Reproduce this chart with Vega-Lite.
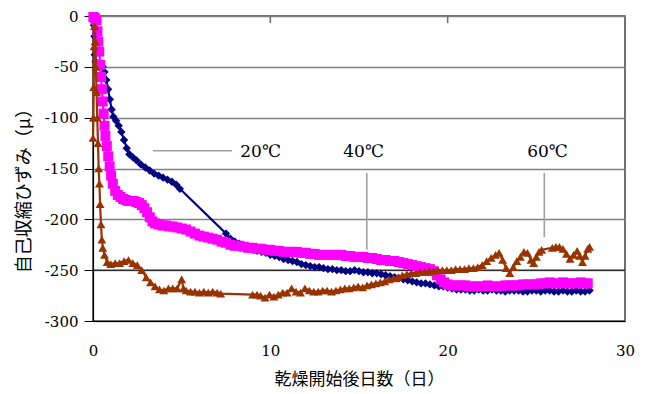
{
"$schema": "https://vega.github.io/schema/vega-lite/v6.json",
"width": 532, "height": 305,
"autosize": "none",
"padding": {"left": 93, "top": 16, "right": 23, "bottom": 73},
"background": "white",
"config": {"view": {"stroke": "#404040", "strokeWidth": 1.5}},
"datasets": {
"blue": [
{"d":0.02,"v":-5},{"d":0.05,"v":-9},{"d":0.08,"v":-20},{"d":0.1,"v":-38},{"d":0.15,"v":-45},{"d":0.25,"v":-47},{"d":0.4,"v":-48},{"d":0.55,"v":-50},{"d":0.65,"v":-55},{"d":0.75,"v":-63},{"d":0.85,"v":-72},{"d":0.95,"v":-82},{"d":1.05,"v":-92},{"d":1.15,"v":-99},{"d":1.3,"v":-103},{"d":1.45,"v":-108},{"d":1.6,"v":-114},{"d":1.75,"v":-122},{"d":1.9,"v":-130},{"d":2.05,"v":-136},{"d":2.25,"v":-139},{"d":2.45,"v":-142},{"d":2.7,"v":-146},{"d":2.95,"v":-149},{"d":3.2,"v":-152},{"d":3.45,"v":-155},{"d":3.7,"v":-157},{"d":3.95,"v":-159},{"d":4.2,"v":-161},{"d":4.45,"v":-163},{"d":4.7,"v":-166},{"d":4.9,"v":-170},
{"d":7.5,"v":-214},{"d":7.75,"v":-219},{"d":8.0,"v":-222},{"d":8.25,"v":-224},{"d":8.5,"v":-226},{"d":8.75,"v":-227},{"d":9.0,"v":-229},{"d":9.25,"v":-231},{"d":9.5,"v":-232},{"d":9.75,"v":-233},{"d":10,"v":-235},{"d":10.25,"v":-236},{"d":10.5,"v":-237},{"d":10.75,"v":-239},{"d":11,"v":-240},{"d":11.25,"v":-241},{"d":11.5,"v":-242},{"d":11.75,"v":-244},{"d":12,"v":-245},{"d":12.25,"v":-246},{"d":12.5,"v":-247},{"d":12.75,"v":-247},{"d":13,"v":-248},{"d":13.25,"v":-249},{"d":13.5,"v":-249},{"d":13.75,"v":-250},{"d":14,"v":-250},{"d":14.25,"v":-251},{"d":14.5,"v":-251},{"d":14.75,"v":-250},{"d":15,"v":-251},{"d":15.25,"v":-252},{"d":15.5,"v":-252},{"d":15.75,"v":-253},{"d":16,"v":-253},{"d":16.25,"v":-254},{"d":16.5,"v":-255},{"d":16.75,"v":-256},{"d":17,"v":-257},{"d":17.25,"v":-258},{"d":17.5,"v":-259},{"d":17.75,"v":-260},{"d":18,"v":-261},{"d":18.25,"v":-262},{"d":18.5,"v":-263},{"d":18.75,"v":-263},{"d":19,"v":-264},{"d":19.25,"v":-265},{"d":19.5,"v":-266},{"d":19.75,"v":-266},{"d":20,"v":-267},{"d":20.25,"v":-268},{"d":20.5,"v":-269},{"d":20.75,"v":-269},{"d":21,"v":-269},{"d":21.25,"v":-270},{"d":21.5,"v":-270},{"d":21.75,"v":-269},{"d":22,"v":-270},{"d":22.25,"v":-270},{"d":22.5,"v":-269},{"d":22.75,"v":-270},{"d":23,"v":-270},{"d":23.25,"v":-271},{"d":23.5,"v":-270},{"d":23.75,"v":-270},{"d":24,"v":-270},{"d":24.25,"v":-271},{"d":24.5,"v":-271},{"d":24.75,"v":-270},{"d":25,"v":-270},{"d":25.25,"v":-271},{"d":25.5,"v":-270},{"d":25.75,"v":-270},{"d":26,"v":-271},{"d":26.25,"v":-271},{"d":26.5,"v":-270},{"d":26.75,"v":-271},{"d":27,"v":-271},{"d":27.25,"v":-270},{"d":27.5,"v":-271},{"d":27.75,"v":-271},{"d":28,"v":-270}
],
"pink": [
{"d":0.02,"v":-1},{"d":0.1,"v":-2},{"d":0.2,"v":-4},{"d":0.25,"v":-15},{"d":0.3,"v":-25},{"d":0.35,"v":-35},{"d":0.4,"v":-48},{"d":0.45,"v":-60},{"d":0.5,"v":-72},{"d":0.55,"v":-84},{"d":0.6,"v":-96},{"d":0.65,"v":-108},{"d":0.7,"v":-118},{"d":0.78,"v":-128},{"d":0.86,"v":-138},{"d":0.94,"v":-148},{"d":1.02,"v":-157},{"d":1.12,"v":-165},{"d":1.25,"v":-172},{"d":1.4,"v":-176},{"d":1.55,"v":-178},{"d":1.7,"v":-180},{"d":1.85,"v":-181},{"d":2.0,"v":-182},{"d":2.15,"v":-182},{"d":2.3,"v":-182},{"d":2.45,"v":-183},{"d":2.6,"v":-184},{"d":2.75,"v":-186},{"d":2.9,"v":-189},{"d":3.05,"v":-193},{"d":3.2,"v":-198},{"d":3.35,"v":-202},{"d":3.5,"v":-204},{"d":3.7,"v":-205},{"d":3.9,"v":-206},{"d":4.1,"v":-206},{"d":4.3,"v":-207},{"d":4.5,"v":-207},{"d":4.75,"v":-208},
{"d":5.0,"v":-209},{"d":5.25,"v":-210},{"d":5.5,"v":-212},{"d":5.75,"v":-214},{"d":6.0,"v":-216},{"d":6.25,"v":-217},{"d":6.5,"v":-218},{"d":6.75,"v":-219},{"d":7.0,"v":-220},{"d":7.25,"v":-222},{"d":7.5,"v":-223},{"d":7.75,"v":-225},{"d":8.0,"v":-226},{"d":8.25,"v":-226},{"d":8.5,"v":-227},{"d":8.75,"v":-228},{"d":9.0,"v":-228},{"d":9.25,"v":-229},{"d":9.5,"v":-229},{"d":9.75,"v":-230},{"d":10,"v":-230},{"d":10.25,"v":-231},{"d":10.5,"v":-231},{"d":10.75,"v":-232},{"d":11,"v":-232},{"d":11.25,"v":-232},{"d":11.5,"v":-232},{"d":11.75,"v":-233},{"d":12,"v":-233},{"d":12.25,"v":-234},{"d":12.5,"v":-234},{"d":12.75,"v":-235},{"d":13,"v":-235},{"d":13.25,"v":-235},{"d":13.5,"v":-235},{"d":13.75,"v":-235},{"d":14,"v":-235},{"d":14.25,"v":-236},{"d":14.5,"v":-236},{"d":14.75,"v":-237},{"d":15,"v":-237},{"d":15.25,"v":-237},{"d":15.5,"v":-238},{"d":15.75,"v":-238},{"d":16,"v":-239},{"d":16.25,"v":-240},{"d":16.5,"v":-240},{"d":16.75,"v":-241},{"d":17,"v":-241},{"d":17.25,"v":-242},{"d":17.5,"v":-243},{"d":17.75,"v":-244},{"d":18,"v":-245},{"d":18.25,"v":-246},{"d":18.5,"v":-247},{"d":18.75,"v":-248},{"d":19,"v":-249},{"d":19.2,"v":-251},{"d":19.4,"v":-255},{"d":19.6,"v":-259},{"d":19.8,"v":-262},{"d":20,"v":-264},{"d":20.25,"v":-265},{"d":20.5,"v":-265},{"d":20.75,"v":-265},{"d":21,"v":-265},{"d":21.25,"v":-266},{"d":21.5,"v":-266},{"d":21.75,"v":-266},{"d":22,"v":-266},{"d":22.25,"v":-265},{"d":22.5,"v":-266},{"d":22.75,"v":-266},{"d":23,"v":-266},{"d":23.25,"v":-265},{"d":23.5,"v":-265},{"d":23.75,"v":-265},{"d":24,"v":-265},{"d":24.25,"v":-264},{"d":24.5,"v":-264},{"d":24.75,"v":-264},{"d":25,"v":-264},{"d":25.25,"v":-263},{"d":25.5,"v":-263},{"d":25.75,"v":-262},{"d":26,"v":-263},{"d":26.25,"v":-263},{"d":26.5,"v":-262},{"d":26.75,"v":-263},{"d":27,"v":-263},{"d":27.25,"v":-263},{"d":27.5,"v":-262},{"d":27.75,"v":-263},{"d":27.9,"v":-263}
],
"brown": [
{"d":0.0,"v":-120},{"d":0.02,"v":-100},{"d":0.04,"v":-70},{"d":0.06,"v":-30},{"d":0.08,"v":-10},{"d":0.12,"v":-25},{"d":0.16,"v":-50},{"d":0.2,"v":-75},{"d":0.24,"v":-100},{"d":0.28,"v":-125},{"d":0.32,"v":-150},{"d":0.36,"v":-165},{"d":0.4,"v":-185},{"d":0.45,"v":-205},{"d":0.5,"v":-220},{"d":0.55,"v":-228},{"d":0.65,"v":-235},
{"d":0.8,"v":-242},{"d":1.0,"v":-244},{"d":1.25,"v":-243},{"d":1.5,"v":-243},{"d":1.75,"v":-241},{"d":2.0,"v":-240},{"d":2.25,"v":-243},{"d":2.5,"v":-245},{"d":2.75,"v":-250},{"d":3.0,"v":-257},{"d":3.25,"v":-262},{"d":3.5,"v":-266},{"d":3.75,"v":-269},{"d":4.0,"v":-270},{"d":4.25,"v":-268},{"d":4.5,"v":-268},{"d":4.75,"v":-268},{"d":5.0,"v":-259},{"d":5.1,"v":-268},{"d":5.25,"v":-270},{"d":5.5,"v":-271},{"d":5.75,"v":-271},{"d":6.0,"v":-272},{"d":6.25,"v":-271},{"d":6.5,"v":-272},{"d":6.75,"v":-271},{"d":7.0,"v":-272},{"d":7.2,"v":-273},
{"d":9.0,"v":-274},{"d":9.25,"v":-274},{"d":9.45,"v":-275},{"d":9.7,"v":-277},{"d":9.95,"v":-274},{"d":10.2,"v":-276},{"d":10.45,"v":-274},{"d":10.7,"v":-272},{"d":10.95,"v":-272},{"d":11.2,"v":-268},{"d":11.45,"v":-271},{"d":11.7,"v":-272},{"d":11.95,"v":-268},{"d":12.2,"v":-270},{"d":12.45,"v":-271},{"d":12.7,"v":-271},{"d":12.95,"v":-270},{"d":13.2,"v":-270},{"d":13.45,"v":-271},{"d":13.7,"v":-270},{"d":13.95,"v":-269},{"d":14.2,"v":-268},{"d":14.45,"v":-268},{"d":14.7,"v":-267},{"d":14.95,"v":-266},{"d":15.2,"v":-267},{"d":15.45,"v":-265},{"d":15.7,"v":-264},{"d":15.95,"v":-263},{"d":16.2,"v":-262},{"d":16.45,"v":-261},{"d":16.7,"v":-259},{"d":16.95,"v":-258},{"d":17.2,"v":-257},{"d":17.45,"v":-255},{"d":17.7,"v":-254},{"d":17.95,"v":-253},{"d":18.2,"v":-253},{"d":18.45,"v":-252},{"d":18.7,"v":-252},{"d":18.95,"v":-251},{"d":19.2,"v":-251},{"d":19.45,"v":-250},{"d":19.7,"v":-250},{"d":19.95,"v":-250},{"d":20.2,"v":-250},{"d":20.45,"v":-249},{"d":20.7,"v":-249},{"d":20.95,"v":-249},{"d":21.2,"v":-248},{"d":21.45,"v":-248},{"d":21.7,"v":-247},{"d":21.95,"v":-245},{"d":22.2,"v":-241},{"d":22.45,"v":-238},{"d":22.7,"v":-235},{"d":22.9,"v":-233},{"d":23.1,"v":-240},{"d":23.3,"v":-248},{"d":23.5,"v":-253},{"d":23.7,"v":-247},{"d":23.9,"v":-241},{"d":24.1,"v":-237},{"d":24.3,"v":-232},{"d":24.5,"v":-233},{"d":24.7,"v":-240},{"d":24.85,"v":-243},{"d":25.0,"v":-237},{"d":25.15,"v":-232},{"d":25.3,"v":-230},{"d":25.9,"v":-228},{"d":26.1,"v":-227},{"d":26.3,"v":-227},{"d":26.5,"v":-229},{"d":26.7,"v":-234},{"d":26.9,"v":-239},{"d":27.1,"v":-235},{"d":27.3,"v":-231},{"d":27.45,"v":-236},{"d":27.6,"v":-242},{"d":27.75,"v":-236},{"d":27.9,"v":-229},{"d":28.0,"v":-227}
]
},
"layer": [
{
"data": {"values": [{"v": -250}]},
"mark": {"type": "rule", "color": "black", "strokeWidth": 1},
"encoding": {
"y": {"field": "v", "type": "quantitative", "scale": {"domain": [-300, 0]},
"axis": {"values": [-300,-250,-200,-150,-100,-50,0], "grid": true, "gridColor": "#808080", "gridWidth": 1.6, "gridOpacity": 1,
"domainColor": "black", "domainWidth": 1.2, "tickColor": "black", "tickSize": 9, "tickWidth": 1,
"labelExpr": "'' + datum.value",
"labelFont": "DejaVu Serif", "labelFontSize": 15, "labelColor": "black", "labelPadding": 6,
"title": "自己収縮ひずみ（μ）", "titleFont": "Noto Sans CJK JP", "titleFontSize": 18, "titleFontWeight": "normal", "titleColor": "black",
"titleX": -69, "titleY": 170, "titleAlign": "center", "titleBaseline": "middle", "titleAngle": -90}}
}
},
{
"data": {"values": [{"d": 10}, {"d": 20}]},
"mark": {"type": "rule", "color": "#707070", "strokeWidth": 1.6},
"encoding": {
"x": {"field": "d", "type": "quantitative"},
"y": {"datum": 0},
"y2": {"datum": -7}
}
},
{
"data": {"name": "blue"},
"mark": {"type": "line", "color": "#000080", "strokeWidth": 2.2, "point": {"shape": "diamond", "size": 70, "filled": true, "color": "#000080", "opacity": 1}},
"encoding": {
"x": {"field": "d", "type": "quantitative", "scale": {"domain": [0, 30]},
"axis": {"orient": "bottom", "values": [0, 10, 20, 30], "ticks": false, "grid": false, "domainColor": "black", "domainWidth": 1.2,
"labelFont": "DejaVu Serif", "labelFontSize": 15, "labelColor": "black", "labelPadding": 22, "labelFlush": false,
"title": "乾燥開始後日数（日）", "titleFont": "Noto Sans CJK JP", "titleFontSize": 17, "titleFontWeight": "normal", "titleColor": "black",
"titleY": 58, "titleBaseline": "middle"}},
"y": {"field": "v", "type": "quantitative"}
}
},
{
"data": {"name": "pink"},
"mark": {"type": "line", "color": "#FF00FF", "strokeWidth": 2.2, "point": {"shape": "square", "size": 100, "filled": true, "color": "#FF00FF", "opacity": 1}},
"encoding": {
"x": {"field": "d", "type": "quantitative"},
"y": {"field": "v", "type": "quantitative"}
}
},
{
"data": {"name": "brown"},
"mark": {"type": "line", "color": "#993300", "strokeWidth": 2.2, "point": {"shape": "triangle-up", "size": 80, "filled": true, "color": "#993300", "opacity": 1}},
"encoding": {
"x": {"field": "d", "type": "quantitative"},
"y": {"field": "v", "type": "quantitative"}
}
},
{
"data": {"values": [
{"x1": 3.38, "x2": 7.84, "y1": -132.5, "y2": -132.5},
{"x1": 15.44, "x2": 15.44, "y1": -154.4, "y2": -230},
{"x1": 25.45, "x2": 25.45, "y1": -154.4, "y2": -217.4}
]},
"mark": {"type": "rule", "color": "#a0a0a0", "strokeWidth": 1.6},
"encoding": {
"x": {"field": "x1", "type": "quantitative"},
"x2": {"field": "x2"},
"y": {"field": "y1", "type": "quantitative"},
"y2": {"field": "y2"}
}
},
{
"data": {"values": [
{"x": 9.45, "y": -134, "t": "20℃"},
{"x": 15.26, "y": -134, "t": "40℃"},
{"x": 25.63, "y": -134, "t": "60℃"}
]},
"mark": {"type": "text", "font": "DejaVu Serif", "fontSize": 17, "color": "black", "align": "center", "baseline": "middle"},
"encoding": {
"x": {"field": "x", "type": "quantitative"},
"y": {"field": "y", "type": "quantitative"},
"text": {"field": "t"}
}
}
]
}
